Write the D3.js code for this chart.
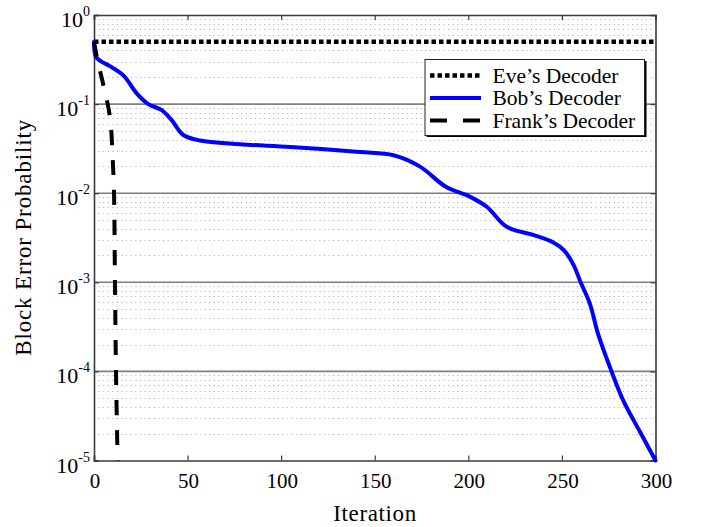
<!DOCTYPE html>
<html>
<head>
<meta charset="utf-8">
<script src="https://cdn.jsdelivr.net/npm/d3@7"></script>
<style>
  body { margin: 0; background: #fff; }
  text { font-family: "Liberation Serif", "DejaVu Serif", serif; fill: #000; }
</style>
</head>
<body>
<div id="chart"></div>
<script>
// block error probability vs iteration, log y axis

var W = 702, H = 527;
var plotL = 94, plotR = 655.5, plotT = 15, plotB = 460.5;

// data
var eveIter = [0, 300];
var eveBer = [0.5, 0.5];

var bobIter = [0, 1, 4, 8.5, 15.7, 22.8, 29, 36, 41.5, 47.7, 56.6, 78, 105, 142, 160, 174,
	188, 201, 210, 220.5, 234.7, 245.4, 251, 256, 260, 265, 269.4, 276.5, 282.8, 291.7, 300];
var bobBer = [0.5, 0.34, 0.3, 0.267, 0.21, 0.132, 0.1, 0.086, 0.066, 0.045, 0.039, 0.0355, 0.033,
	0.029, 0.0267, 0.02, 0.0118, 0.0091, 0.007, 0.0042, 0.0034, 0.0028, 0.0023, 0.0016, 0.001,
	0.00057, 0.00026, 0.0001, 0.000047, 0.000021, 0.00001];

var frankIter = [0, 2, 4.6, 8.5, 10.0, 10.7, 11.2, 11.75, 12.6];
var frankBer = [0.5, 0.3, 0.178, 0.072, 0.024, 0.01, 0.001, 0.0001, 0.00001];

var xTicks = [0, 50, 100, 150, 200, 250, 300];
var yExps = [0, -1, -2, -3, -4, -5];

var series = [
	{name: "Eve\u2019s Decoder", iter: eveIter, ber: eveBer, color: "#000", dash: "4.5,3", width: 4.5, cap: "butt"},
	{name: "Bob\u2019s Decoder", iter: bobIter, ber: bobBer, color: "#0000ff", dash: null, width: 4, cap: "round"},
	{name: "Frank\u2019s Decoder", iter: frankIter, ber: frankBer, color: "#000", dash: "15,15", width: 4, cap: "butt"}
];

var x = d3.scaleLinear().domain([0, 300]).range([plotL, plotR]);
var y = d3.scaleLog().domain([1e-5, 1]).range([plotB, plotT]);

var svg = d3.select('#chart').append('svg')
	.attr('width', W)
	.attr('height', H);

// minor grid (dotted) and major grid (solid)
var minor = [];
yExps.slice(0, -1).forEach(function(e) {
	for (var k = 2; k <= 9; k++) minor.push(k * Math.pow(10, e - 1));
});
svg.append('g').selectAll('line').data(minor).enter().append('line')
	.attr('x1', plotL).attr('x2', plotR)
	.attr('y1', function(d) { return Math.round(y(d)) + 0.5; })
	.attr('y2', function(d) { return Math.round(y(d)) + 0.5; })
	.attr('stroke', '#ababab')
	.attr('stroke-width', 1)
	.attr('stroke-dasharray', '1,3.6');

svg.append('g').selectAll('line').data(yExps.slice(1, -1)).enter().append('line')
	.attr('x1', plotL).attr('x2', plotR)
	.attr('y1', function(d) { return y(Math.pow(10, d)); })
	.attr('y2', function(d) { return y(Math.pow(10, d)); })
	.attr('stroke', '#7f7f7f')
	.attr('stroke-width', 1.6);

// axes with inward ticks on all four sides
var xAxisB = d3.axisBottom(x).tickValues(xTicks).tickSize(-5).tickFormat('');
var xAxisT = d3.axisTop(x).tickValues(xTicks).tickSize(-5).tickFormat('');
var yVals = yExps.map(function(e) { return Math.pow(10, e); });
var yAxisL = d3.axisLeft(y).tickValues(yVals).tickSize(-5).tickFormat('');
var yAxisR = d3.axisRight(y).tickValues(yVals).tickSize(-5).tickFormat('');

function styleAxis(g) {
	g.select('.domain').attr('stroke', '#3a3a3a').attr('stroke-width', 1.6);
	g.selectAll('.tick line').attr('stroke', '#3a3a3a').attr('stroke-width', 1.2);
}
svg.append('g').attr('transform', 'translate(0,' + plotB + ')').call(xAxisB).call(styleAxis);
svg.append('g').attr('transform', 'translate(0,' + plotT + ')').call(xAxisT).call(styleAxis);
svg.append('g').attr('transform', 'translate(' + plotL + ',0)').call(yAxisL).call(styleAxis);
svg.append('g').attr('transform', 'translate(' + plotR + ',0)').call(yAxisR).call(styleAxis);

// tick labels
svg.append('g').selectAll('text').data(xTicks).enter().append('text')
	.attr('x', function(d) { return x(d) + 1; })
	.attr('y', 488)
	.attr('text-anchor', 'middle')
	.style('font-size', '21px')
	.attr('fill', '#222')
	.text(function(d) { return d; });

var yl = svg.append('g').selectAll('text').data(yExps).enter().append('text')
	.attr('x', 90)
	.attr('y', function(d) { return y(Math.pow(10, d)) + 12; })
	.attr('text-anchor', 'end')
	.style('font-size', '22px')
	.attr('fill', '#222');
yl.append('tspan').text('10');
yl.append('tspan')
	.attr('dy', -11)
	.style('font-size', '14px')
	.text(function(d) { return d === 0 ? '0' : String(d); });

// axis titles
svg.append('text')
	.attr('x', (plotL + plotR) / 2)
	.attr('y', 521)
	.attr('text-anchor', 'middle')
	.style('font-size', '23px')
	.attr('textLength', 83)
	.text('Iteration');

svg.append('text')
	.attr('transform', 'translate(31,' + ((plotT + plotB) / 2) + ') rotate(-90)')
	.attr('text-anchor', 'middle')
	.style('font-size', '23px')
	.attr('textLength', 236)
	.text('Block Error Probability');

// curves
var line = d3.line()
	.x(function(d) { return x(d[0]); })
	.y(function(d) { return y(d[1]); })
	.curve(d3.curveCatmullRom.alpha(0.5));

svg.append('g').selectAll('path').data(series).enter().append('path')
	.attr('d', function(s) { return line(d3.zip(s.iter, s.ber)); })
	.attr('fill', 'none')
	.attr('stroke', function(s) { return s.color; })
	.attr('stroke-width', function(s) { return s.width; })
	.attr('stroke-linecap', function(s) { return s.cap; })
	.attr('stroke-dasharray', function(s) { return s.dash; });

// legend
var lg = svg.append('g').attr('transform', 'translate(425,59.5)');
lg.append('rect').attr('x', 1.5).attr('y', 1.5).attr('width', 220).attr('height', 76).attr('fill', '#000');
lg.append('rect').attr('x', 0).attr('y', 0).attr('width', 219.5).attr('height', 76)
	.attr('fill', '#fff').attr('stroke', '#222').attr('stroke-width', 1);

var items = lg.selectAll('.item').data(series).enter().append('g')
	.attr('transform', function(d, i) { return 'translate(0,' + (16 + i * 22.5) + ')'; });
items.append('line')
	.attr('x1', 5).attr('x2', 56)
	.attr('stroke', function(s) { return s.color; })
	.attr('stroke-width', function(s) { return s.width; })
	.attr('stroke-dasharray', function(s) { return s.dash === "15,15" ? "17,16" : s.dash; });
items.append('text')
	.attr('x', 67.5)
	.attr('y', 7)
	.style('font-size', '21.5px')
	.text(function(s) { return s.name; });
</script>
</body>
</html>
